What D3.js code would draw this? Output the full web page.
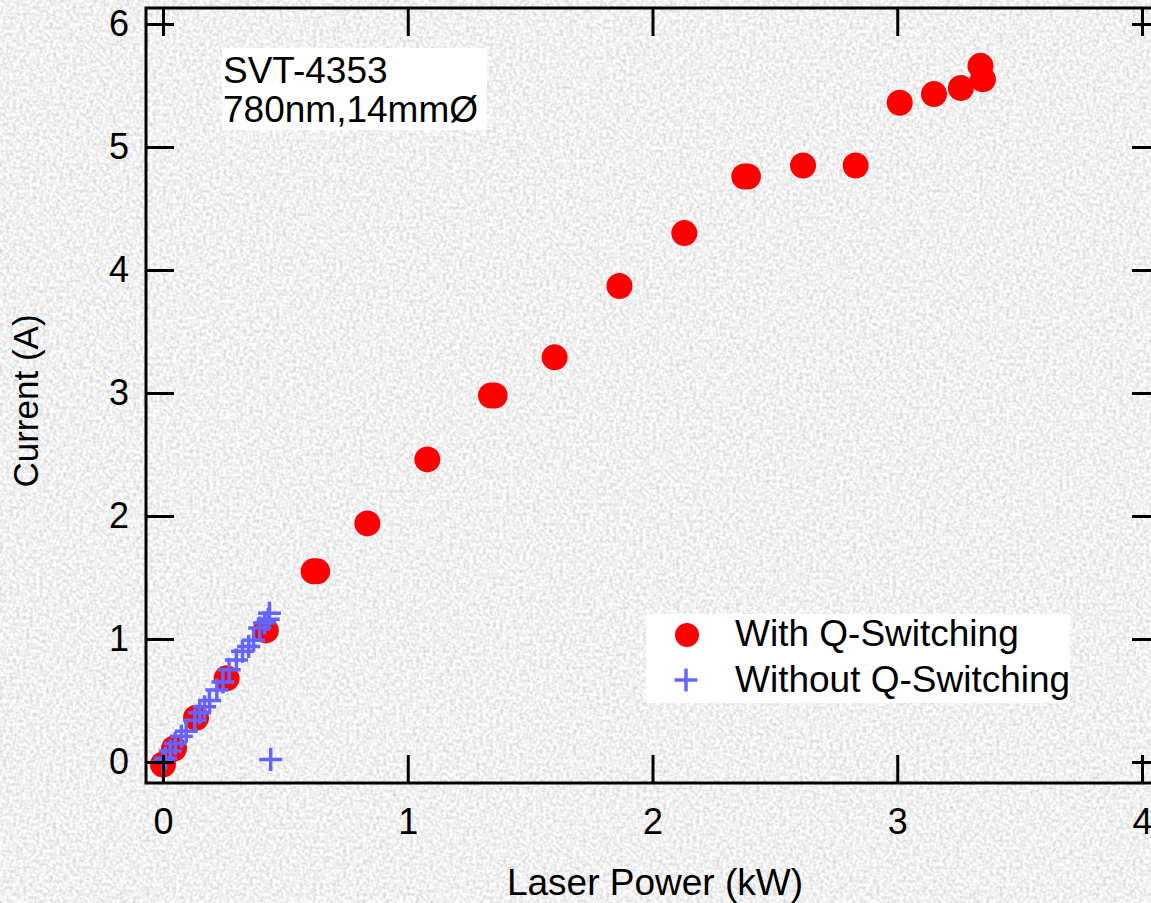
<!DOCTYPE html>
<html>
<head>
<meta charset="utf-8">
<script src="https://cdn.jsdelivr.net/npm/d3@7"></script>
<style>
html,body{margin:0;padding:0;background:#e6e6e6;overflow:hidden;}
svg{display:block;}
text{font-family:"Liberation Sans",Arial,sans-serif;fill:#000;}
</style>
</head>
<body>
<svg id="chart" width="1151" height="903"></svg>
<script>
// ---- data ----
const withQ_x = [0.00, 0.045, 0.135, 0.26, 0.42, 0.615, 0.63, 0.835, 1.08, 1.34, 1.355, 1.60, 1.865, 2.13, 2.375, 2.39, 2.615, 2.83, 3.01, 3.15, 3.26, 3.34, 3.35];
const withQ_y = [-0.02, 0.11, 0.36, 0.68, 1.07, 1.55, 1.55, 1.94, 2.46, 2.98, 2.98, 3.29, 3.87, 4.30, 4.76, 4.76, 4.85, 4.85, 5.36, 5.43, 5.48, 5.66, 5.55];
const withoutQ_x = [0.00, 0.01, 0.03, 0.05, 0.075, 0.095, 0.13, 0.15, 0.17, 0.19, 0.22, 0.245, 0.27, 0.30, 0.325, 0.35, 0.37, 0.395, 0.415, 0.43, 0.435, 0.44];
const withoutQ_y = [0.00, 0.03, 0.09, 0.15, 0.21, 0.25, 0.34, 0.40, 0.45, 0.50, 0.585, 0.65, 0.75, 0.83, 0.90, 0.94, 0.99, 1.09, 1.13, 1.16, 1.21, 0.02];
const xTicks = [0, 1, 2, 3, 4];
const yTicks = [0, 1, 2, 3, 4, 5, 6];
const seriesNames = ["With Q-Switching", "Without Q-Switching"];
const annotation = ["SVT-4353", "780nm,14mmØ"];
const xTitle = "Laser Power (kW)";
const yTitle = "Current (A)";

// ---- layout ----
const W = 1151, H = 903;
const frame = {left: 146, top: 8, right: 1160, bottom: 783};
const x = d3.scaleLinear().domain([0, 4]).range([163, 1142]);
const y = d3.scaleLinear().domain([0, 6]).range([762, 24]);
const svg = d3.select("#chart");

// background texture
const defs = svg.append("defs");
const f = defs.append("filter").attr("id", "noise").attr("x", 0).attr("y", 0).attr("width", "100%").attr("height", "100%");
f.append("feTurbulence").attr("type", "fractalNoise").attr("baseFrequency", 0.3).attr("numOctaves", 2).attr("seed", 3).attr("result", "t");
f.append("feColorMatrix").attr("in", "t").attr("type", "matrix")
  .attr("values", "0.6 0 0 0 0.58  0.6 0 0 0 0.58  0.6 0 0 0 0.58  0 0 0 0 1");
svg.append("rect").attr("width", W).attr("height", H).attr("fill", "#e4e4e4");
svg.append("rect").attr("width", W).attr("height", H).attr("filter", "url(#noise)");

const FS = 36;
const FT = 37;

// annotation box
const ann = svg.append("g");
ann.append("rect").attr("x", 222).attr("y", 48).attr("width", 265).attr("height", 82).attr("fill", "#fff");
ann.selectAll("text").data(annotation).join("text")
  .attr("x", 223).attr("y", (d, i) => 83 + i * 39)
  .attr("font-size", FT).text(d => d);

// legend
const lg = svg.append("g");
lg.append("rect").attr("x", 646).attr("y", 614).attr("width", 424).attr("height", 89).attr("fill", "#fff");

// points: red circles
svg.append("g").selectAll("circle").data(withQ_x.map((v, i) => [v, withQ_y[i]])).join("circle")
  .attr("cx", d => x(d[0])).attr("cy", d => y(d[1])).attr("r", 13).attr("fill", "#ff0000");

// blue crosses
const crossColor = "#6464ff";
const cs = 11.5;
svg.append("g").selectAll("path").data(withoutQ_x.map((v, i) => [v, withoutQ_y[i]])).join("path")
  .attr("d", d => { const cx = x(d[0]), cy = y(d[1]); return `M${cx - cs},${cy}H${cx + cs}M${cx},${cy - cs}V${cy + cs}`; })
  .attr("stroke", crossColor).attr("stroke-width", 3.5).attr("fill", "none");

// legend entries
lg.append("circle").attr("cx", 687).attr("cy", 635).attr("r", 12).attr("fill", "#ff0000");
lg.append("path").attr("d", `M${686 - cs},680H${686 + cs}M686,${680 - cs}V${680 + cs}`).attr("stroke", crossColor).attr("stroke-width", 3.5);
lg.selectAll("text").data(seriesNames).join("text")
  .attr("x", 735).attr("y", (d, i) => 646 + i * 46).attr("font-size", FT).text(d => d);

// axes
const tick = 28;
function styleAxis(g) {
  g.select(".domain").remove();
  g.selectAll(".tick line").attr("stroke", "#000").attr("stroke-width", 3);
  g.selectAll(".tick text").attr("font-size", FS).attr("font-family", '"Liberation Sans",Arial,sans-serif').attr("fill", "#000");
}
svg.append("g").attr("transform", `translate(${frame.left},0)`)
  .call(d3.axisLeft(y).tickValues(yTicks).tickSize(-tick).tickPadding(17).tickFormat(d3.format("d"))).call(styleAxis);
svg.append("g").attr("transform", `translate(${frame.right},0)`)
  .call(d3.axisRight(y).tickValues(yTicks).tickSize(-tick).tickFormat("")).call(styleAxis);
svg.append("g").attr("transform", `translate(0,${frame.bottom})`)
  .call(d3.axisBottom(x).tickValues(xTicks).tickSize(-tick).tickPadding(25).tickFormat(d3.format("d"))).call(styleAxis);
svg.append("g").attr("transform", `translate(0,${frame.top})`)
  .call(d3.axisTop(x).tickValues(xTicks).tickSize(-tick).tickFormat("")).call(styleAxis);

// frame
svg.append("rect").attr("x", frame.left).attr("y", frame.top)
  .attr("width", frame.right - frame.left).attr("height", frame.bottom - frame.top)
  .attr("fill", "none").attr("stroke", "#000").attr("stroke-width", 3);

// titles
svg.append("text").attr("x", 655).attr("y", 895).attr("text-anchor", "middle").attr("font-size", FT).text(xTitle);
svg.append("text").attr("transform", "translate(38,401) rotate(-90)").attr("text-anchor", "middle").attr("font-size", 35).text(yTitle);
</script>
</body>
</html>
